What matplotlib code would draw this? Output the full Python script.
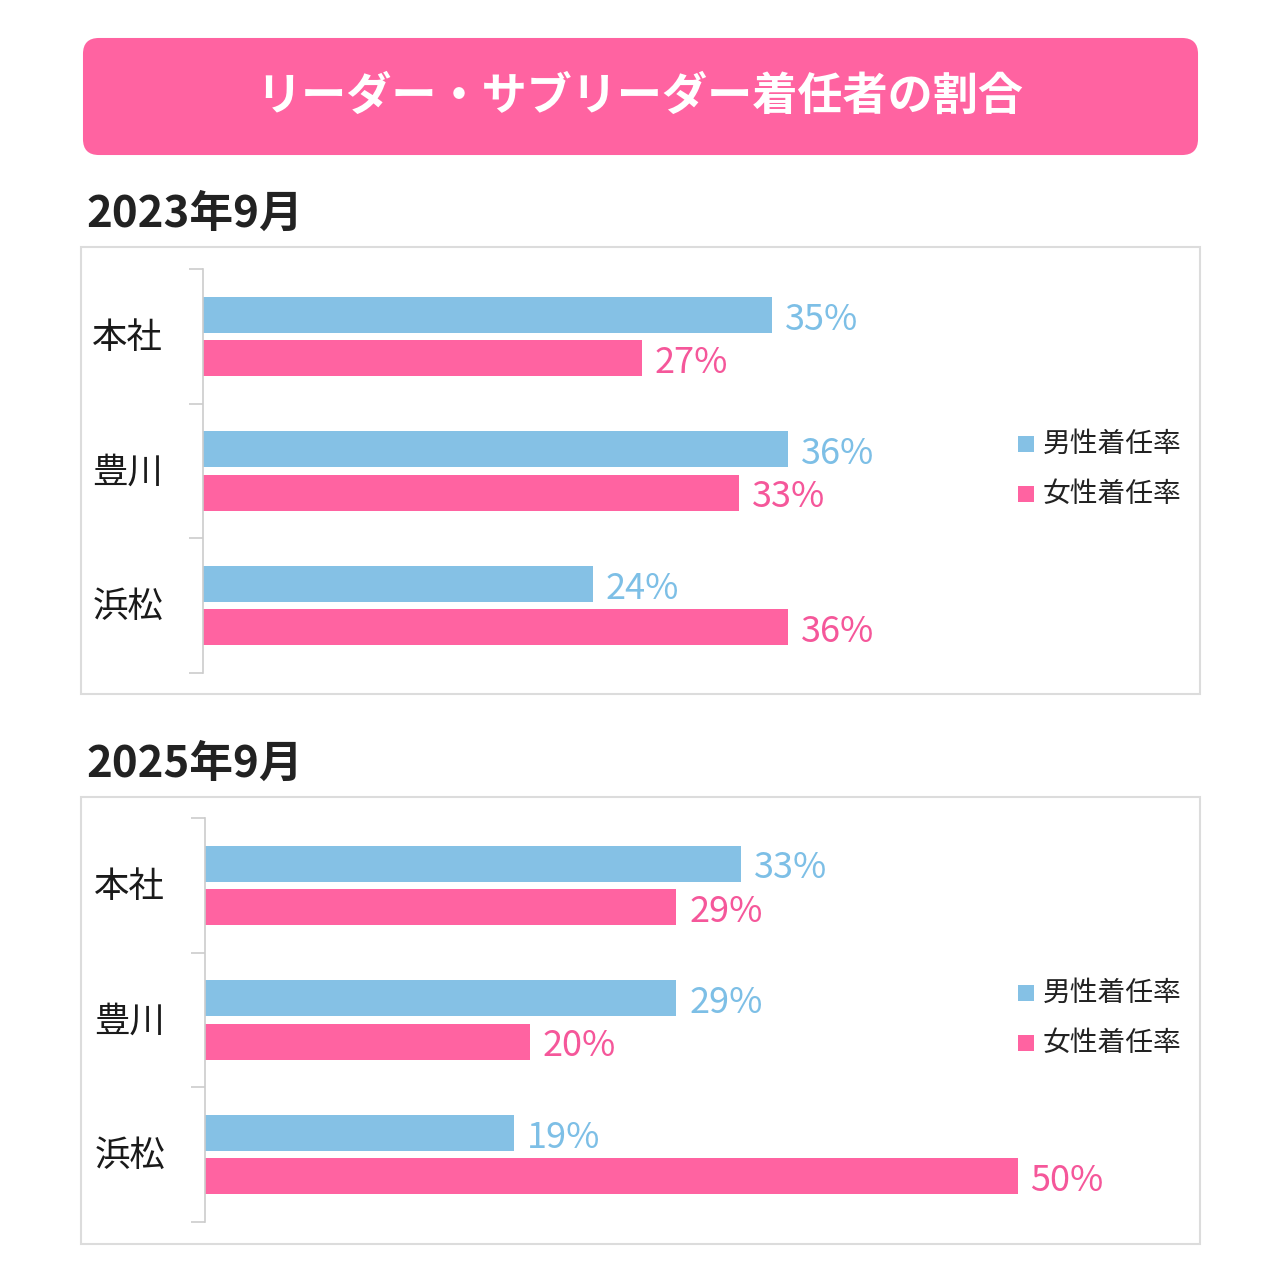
import matplotlib
matplotlib.use("Agg")
from matplotlib import pyplot as plt
from matplotlib.patches import FancyBboxPatch, Rectangle

plt.rcParams['font.family'] = ['Noto Sans CJK JP', 'DejaVu Sans']

title = "リーダー・サブリーダー着任者の割合"
categories = ["本社", "豊川", "浜松"]
series_names = ["男性着任率", "女性着任率"]
panels = ["2023年9月", "2025年9月"]
male_2023 = [35, 36, 24]
female_2023 = [27, 33, 36]
male_2025 = [33, 29, 19]
female_2025 = [29, 20, 50]

blue = "#85c1e5"
pink = "#ff63a1"
blue_txt = "#7dbfe6"
pink_txt = "#f5579a"
W = H = 1280


def fx(px):
    return px / W


def fy(py):
    return 1 - py / H


fig = plt.figure(figsize=(12.8, 12.8), dpi=100)

# title banner
banner = FancyBboxPatch((fx(95), fy(143)), fx(1091), fy(50) - fy(143),
                        boxstyle="round,pad=0.0094,rounding_size=0.0125",
                        facecolor="#ff63a1", edgecolor="none",
                        transform=fig.transFigure)
fig.patches.append(banner)
fig.text(0.5, fy(97), title, color="white", fontsize=32.5, fontweight="bold",
         ha="center", va="center")

panel_data = [(male_2023, female_2023), (male_2025, female_2025)]
panel_top = [247, 797]       # outer box top
axis_top = [269, 818]
axis_left = [203, 205]
px_per_pct = 16.25
xmax = 60

for i, (name, (male, female)) in enumerate(zip(panels, panel_data)):
    top = panel_top[i]
    fig.text(fx(86), fy(top - 33), name, fontsize=31.5, fontweight="bold",
             color="#222222", ha="left", va="center")
    fig.patches.append(Rectangle((fx(81), fy(top + 447)), fx(1119), fy(top) - fy(top + 447),
                                 facecolor="none", edgecolor="#dcdcdc", linewidth=1.5,
                                 transform=fig.transFigure))

    at = axis_top[i]
    ax = fig.add_axes([fx(axis_left[i]), fy(at + 404), fx(px_per_pct * xmax), fy(at) - fy(at + 404)])
    ax.set_xlim(0, xmax)
    ax.set_ylim(2.5, -0.5)
    pos = list(range(len(categories)))
    h = 0.267
    off = 0.16
    ax.barh([p - off for p in pos], male, height=h, color=blue)
    ax.barh([p + off for p in pos], female, height=h, color=pink)
    for p, m, f in zip(pos, male, female):
        ax.text(m + 0.8, p - off + 0.035, f"{m}%", color=blue_txt, fontsize=26,
                ha="left", va="center")
        ax.text(f + 0.8, p + off + 0.035, f"{f}%", color=pink_txt, fontsize=26,
                ha="left", va="center")
    for s in ["top", "right", "bottom"]:
        ax.spines[s].set_visible(False)
    ax.spines["left"].set_color("#cccccc")
    ax.spines["left"].set_linewidth(1.2)
    ax.set_xticks([])
    ax.set_yticks([-0.5, 0.5, 1.5, 2.5])
    ax.set_yticklabels([])
    ax.tick_params(axis="y", length=10, color="#cccccc", width=1.2)
    for p, c in zip(pos, categories):
        ax.text(-2.45, p + 0.01, c, fontsize=25.5, color="#1a1a1a",
                ha="right", va="center")
    ax.patch.set_visible(False)

    # legend
    for j, (sn, col) in enumerate(zip(series_names, [blue, pink])):
        ly = at + 175 + j * 50
        fig.patches.append(Rectangle((fx(1018), fy(ly + 8)), fx(16), fy(ly - 8) - fy(ly + 8),
                                     facecolor=col, edgecolor="none",
                                     transform=fig.transFigure))
        fig.text(fx(1043), fy(ly), sn, fontsize=20, color="#222222",
                 ha="left", va="center")

fig.savefig("out.png", dpi=100, facecolor="white")
